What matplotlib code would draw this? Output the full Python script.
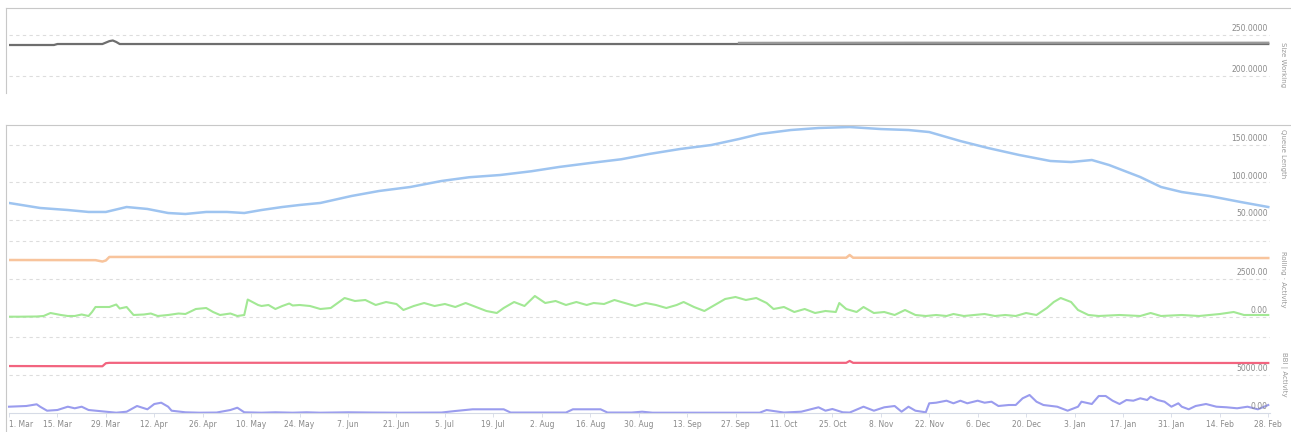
import numpy as np
import matplotlib
matplotlib.use('Agg')
import matplotlib.pyplot as plt
from matplotlib.lines import Line2D

# Начало периода (день 0 = 1 марта)
START = np.datetime64('2014-03-01')

# Подписи оси X (каждые 14 дней)
x_tick_days = list(range(0, 365, 14))
x_tick_labels = ['1. Mar', '15. Mar', '29. Mar', '12. Apr', '26. Apr', '10. May', '24. May',
                 '7. Jun', '21. Jun', '5. Jul', '19. Jul', '2. Aug', '16. Aug', '30. Aug',
                 '13. Sep', '27. Sep', '11. Oct', '25. Oct', '8. Nov', '22. Nov', '6. Dec',
                 '20. Dec', '3. Jan', '17. Jan', '31. Jan', '14. Feb', '28. Feb']

# Верхний график - Size Working
size_days = [0, 13, 14, 27, 29, 30, 31, 32, 120, 211, 300, 364]
size_vals = [237.8, 237.8, 239.0, 239.0, 242.5, 243.3, 241.5, 239.0, 239.0, 239.0, 239.0, 239.0]
size2_days = [211, 260, 320, 364]
size2_vals = [240.4, 240.6, 240.5, 240.6]

# Queue Length (синяя линия)
queue_days = [0, 9, 17, 23, 28, 34, 40, 46, 51, 57, 63, 68, 73, 79, 84, 90, 99, 107, 116, 125,
              133, 142, 151, 159, 168, 177, 185, 194, 203, 211, 217, 226, 234, 243, 252, 260,
              266, 275, 283, 292, 301, 307, 313, 318, 327, 333, 339, 347, 356, 364]
queue_vals = [72.7, 66.0, 63.3, 60.7, 60.7, 67.3, 64.7, 59.3, 58.0, 60.7, 60.7, 59.3, 63.3, 67.3,
              70.0, 72.7, 82.0, 88.7, 94.0, 102.0, 107.0, 110.0, 115.0, 120.7, 126.0, 131.0,
              138.0, 144.7, 150.0, 158.0, 164.7, 170.0, 172.7, 174.0, 171.3, 170.0, 167.3, 155.3,
              146.0, 136.7, 128.7, 127.3, 130.0, 123.3, 107.3, 94.0, 87.3, 82.0, 74.0, 67.3]

# Rolling (оранжевая линия)
rolling_days = [0, 25, 27, 28, 29, 100, 200, 242, 243, 244, 300, 364]
rolling_vals = [3750, 3740, 3650, 3720, 3950, 3960, 3920, 3900, 4080, 3900, 3890, 3880]

# Activity (зелёная линия)
activity_days = [0, 3, 8, 10, 12, 15, 17, 19, 21, 23, 24, 25, 29, 31, 32, 34, 36, 39, 41, 43,
                 46, 49, 51, 54, 57, 59, 61, 64, 66, 68, 69, 72, 73, 75, 77, 79, 81, 82, 84, 87,
                 90, 93, 97, 100, 103, 106, 109, 112, 114, 117, 120, 123, 126, 129, 132, 135,
                 138, 141, 143, 146, 149, 152, 155, 158, 161, 164, 167, 169, 172, 175, 178, 181,
                 184, 187, 190, 193, 195, 198, 201, 204, 207, 210, 213, 216, 219, 221, 224, 227,
                 230, 233, 236, 239, 240, 242, 245, 247, 250, 253, 256, 259, 262, 265, 268, 271,
                 273, 276, 279, 282, 285, 288, 291, 294, 297, 300, 302, 304, 307, 309, 312, 315,
                 321, 327, 330, 333, 339, 344, 350, 354, 357, 364]
activity_vals = [20, 20, 33, 66, 263, 132, 66, 66, 165, 66, 329, 658, 658, 822, 559, 658, 132,
                 165, 230, 66, 132, 230, 197, 526, 592, 329, 132, 230, 66, 132, 1150, 790, 724,
                 790, 526, 724, 888, 757, 790, 724, 526, 592, 1250, 1053, 1119, 790, 987, 855,
                 461, 724, 921, 724, 855, 658, 921, 658, 395, 263, 592, 987, 724, 1382, 921,
                 1053, 790, 987, 790, 921, 855, 1119, 921, 724, 921, 790, 592, 790, 987, 658,
                 395, 790, 1184, 1316, 1119, 1250, 921, 526, 658, 329, 526, 263, 395, 329, 921,
                 526, 329, 658, 263, 329, 132, 461, 132, 66, 132, 66, 197, 66, 132, 197, 66,
                 132, 66, 263, 132, 592, 987, 1250, 987, 461, 132, 66, 132, 66, 263, 66, 132,
                 66, 197, 329, 132, 132]

# BBI (розовая линия)
bbi_days = [0, 27, 28, 29, 150, 242, 243, 244, 364]
bbi_vals = [6180, 6150, 6550, 6600, 6620, 6600, 6850, 6600, 6580]

# Daily activity (фиолетовая линия)
daily_days = [0, 5, 8, 9, 11, 14, 17, 19, 21, 23, 28, 31, 34, 37, 40, 42, 44, 46, 47, 51, 55,
              60, 64, 66, 68, 73, 77, 82, 86, 90, 98, 105, 113, 125, 129, 134, 143, 145, 161,
              163, 171, 173, 180, 183, 186, 217, 219, 224, 229, 234, 236, 238, 241, 243, 247,
              250, 253, 256, 258, 260, 262, 265, 266, 268, 271, 273, 275, 277, 280, 282, 284,
              286, 289, 291, 293, 295, 297, 299, 303, 306, 309, 310, 313, 315, 317, 319, 321,
              323, 325, 327, 329, 330, 332, 334, 336, 338, 339, 341, 343, 346, 349, 352, 355,
              358, 361, 364]
daily_vals = [829, 921, 1145, 829, 303, 395, 829, 619, 829, 395, 171, 40, 171, 921, 487, 1184,
              1355, 829, 303, 92, 40, 60, 395, 697, 92, 40, 92, 40, 92, 40, 92, 60, 40, 60, 263,
              487, 487, 60, 60, 487, 487, 60, 60, 171, 40, 40, 395, 60, 171, 750, 303, 526, 92,
              60, 829, 303, 750, 921, 171, 829, 303, 92, 1277, 1355, 1619, 1277, 1619, 1277,
              1619, 1355, 1487, 921, 1053, 1053, 1934, 2369, 1487, 1053, 829, 303, 829, 1487,
              1184, 2237, 2237, 1619, 1184, 1711, 1619, 1934, 1711, 2145, 1711, 1487, 829, 1277,
              829, 487, 921, 1184, 829, 750, 619, 829, 487, 1053]

W, H = 1291, 432
GRID = '#dddddd'
LABEL = '#8a8a8a'


def to_dates(days):
    return START + np.array(days).astype('timedelta64[D]')


# Оси по пиксельным координатам
def px_axes(fig, top, bottom, left=9, right=1270):
    ax = fig.add_axes([left / W, 1 - bottom / H, (right - left) / W, (bottom - top) / H])
    for s in ax.spines.values():
        s.set_visible(False)
    ax.set_xlim(START, START + np.timedelta64(8748, 'h'))  # ~364.5 дня
    ax.tick_params(left=False, bottom=False, labelleft=False, labelbottom=False)
    ax.patch.set_alpha(0)
    return ax


# Пунктирные линии сетки и подписи справа
def grid_and_labels(ax, grid_vals, labels):
    for v in grid_vals:
        ax.axhline(v, color=GRID, lw=0.8, ls=(0, (3, 3)), zorder=0)
    for v, t in labels:
        ax.annotate(t, xy=(1, v), xycoords=('axes fraction', 'data'), xytext=(-1.5, 1.2),
                    textcoords='offset points', ha='right', va='bottom', fontsize=5.5, color=LABEL)


def creating_plot():
    fig = plt.figure(figsize=(W / 100, H / 100), dpi=100)

    # Рамки панелей
    for y0, y1 in [(8, 93), (125, 432)]:
        fig.add_artist(Line2D([6 / W, 1], [1 - y0 / H] * 2, transform=fig.transFigure, color='#c8c8c8', lw=0.8))
        fig.add_artist(Line2D([6 / W, 6 / W], [1 - y0 / H, 1 - y1 / H], transform=fig.transFigure, color='#c8c8c8', lw=0.8))

    # Верхняя панель
    ax_top = px_axes(fig, 8, 93)
    ax_top.set_ylim(179.3, 282.9)
    grid_and_labels(ax_top, [200, 250], [(200, '200.0000'), (250, '250.0000')])
    ax_top.plot(to_dates(size_days), size_vals, color='#6e6e6e', lw=1.6)
    ax_top.plot(to_dates(size2_days), size2_vals, color='#9a9a9a', lw=1.6)

    # Синяя панель
    ax_q = px_axes(fig, 125, 234)
    ax_q.set_ylim(31.3, 176.7)
    grid_and_labels(ax_q, [50, 100, 150], [(50, '50.0000'), (100, '100.0000'), (150, '150.0000')])
    ax_q.plot(to_dates(queue_days), queue_vals, color='#9ec4f0', lw=1.8)

    # Оранжевая и зелёная
    ax_a = px_axes(fig, 234, 322)
    ax_a.set_ylim(-329, 5461)
    grid_and_labels(ax_a, [0, 2500, 5000], [(0, '0.00'), (2500, '2500.00')])
    ax_a.plot(to_dates(rolling_days), rolling_vals, color='#f8c49c', lw=1.8)
    ax_a.plot(to_dates(activity_days), activity_vals, color='#a2e894', lw=1.5)

    # Розовая и фиолетовая
    ax_d = px_axes(fig, 322, 413)
    ax_d.set_ylim(0, 11974)
    grid_and_labels(ax_d, [5000, 10000], [(0, '0.00'), (5000, '5000.00')])
    ax_d.plot(to_dates(bbi_days), bbi_vals, color='#f2647f', lw=1.6)
    ax_d.plot(to_dates(daily_days), daily_vals, color='#9a9cee', lw=1.5, clip_on=False)

    # Ось X
    ax_d.spines['bottom'].set_visible(True)
    ax_d.spines['bottom'].set_color('#d6dbe6')
    ax_d.spines['bottom'].set_linewidth(0.8)
    ax_d.set_xticks(to_dates(x_tick_days))
    ax_d.set_xticklabels(x_tick_labels)
    ax_d.tick_params(axis='x', bottom=True, labelbottom=True, length=3, width=0.6, color='#d6dbe6',
                     labelsize=5.5, labelcolor=LABEL, pad=2)
    ax_d.get_xticklabels()[0].set_ha('left')

    # Подписи осей справа
    titles = [(65, 'Size Working'), (154, 'Queue Length'), (279, 'Rolling · Activity'), (374, 'BBI | Activity')]
    for yc, t in titles:
        fig.text(1283 / W, 1 - yc / H, t, rotation=270, ha='center', va='center', fontsize=5, color='#9a9a9a')

    plt.savefig('out.png', dpi=100)


def main():
    creating_plot()


if __name__ == '__main__':
    main()
